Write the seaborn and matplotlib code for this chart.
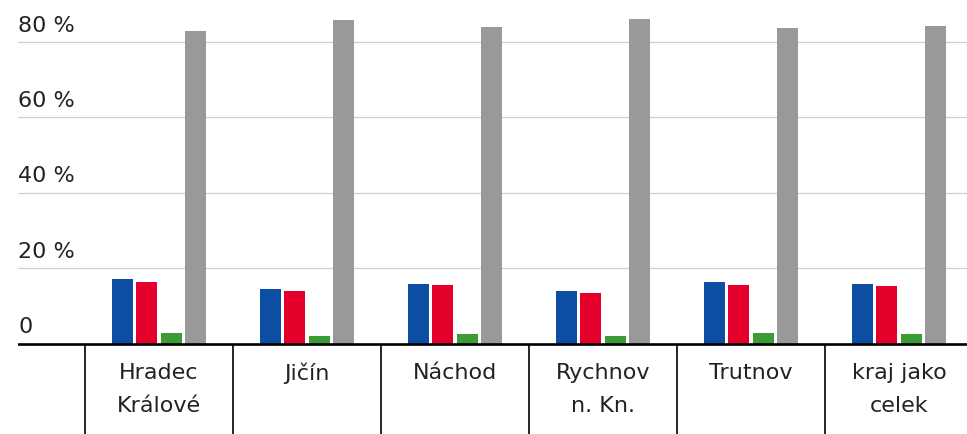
import matplotlib
matplotlib.use("Agg")
import matplotlib.pyplot as plt
import matplotlib.transforms as mtransforms
import seaborn as sns
import pandas as pd

# ---- data ----
regions = ["Hradec\nKrálové", "Jičín", "Náchod", "Rychnov\nn. Kn.", "Trutnov", "kraj jako\ncelek"]
series_names = ["řada 1", "řada 2", "řada 3", "řada 4"]
blue_vals = [17.2, 14.5, 15.9, 13.9, 16.3, 15.9]
red_vals = [16.3, 13.9, 15.4, 13.3, 15.6, 15.2]
green_vals = [2.8, 2.1, 2.65, 1.9, 2.8, 2.6]
gray_vals = [82.8, 85.7, 84.0, 86.1, 83.6, 84.2]
y_ticks = [0, 20, 40, 60, 80]
y_tick_labels = ["0", "20 %", "40 %", "60 %", "80 %"]

colors = ["#0B4EA2", "#E4002B", "#3C9B35", "#999999"]

rows = []
for name, vals in zip(series_names, [blue_vals, red_vals, green_vals, gray_vals]):
    for r, v in zip(regions, vals):
        rows.append({"region": r, "series": name, "value": v})
df = pd.DataFrame(rows)

sns.set_theme(style="white")
plt.rcParams["font.family"] = ["DejaVu Sans"]

W, H = 967, 435
fig = plt.figure(figsize=(W / 100, H / 100), dpi=100)
left_px = 18
ax = fig.add_axes([left_px / W, 0, 1 - left_px / W, 1])

sns.barplot(data=df, x="region", y="value", hue="series", order=regions,
            hue_order=series_names, palette=colors, saturation=1,
            width=0.66, gap=0.15, linewidth=0, ax=ax, legend=False, zorder=3)

# axis geometry
px_per_unit = 148.0
x0_px = 159.0
ax.set_xlim((left_px - x0_px) / px_per_unit, (W - x0_px) / px_per_unit)
px_per_pct = 3.77
base_px = 344.5
ax.set_ylim((base_px - H) / px_per_pct, base_px / px_per_pct)

for s in ax.spines.values():
    s.set_visible(False)
ax.set_xticks([])
ax.set_yticks([])
ax.set_xlabel("")
ax.set_ylabel("")

# gridlines
for v in y_ticks[1:]:
    ax.axhline(v, color="#D0D0D0", lw=0.9, zorder=1)
ax.axhline(0, color="black", lw=1.9, zorder=4)

# separators between categories
ymin = ax.get_ylim()[0]
for i in range(len(regions)):
    ax.plot([i - 0.5, i - 0.5], [0, ymin], color="black", lw=1.2, zorder=4,
            solid_capstyle="butt")

# y tick labels (above gridlines)
trans = mtransforms.blended_transform_factory(ax.transAxes, ax.transData)
for v, lab in zip(y_ticks, y_tick_labels):
    ax.text(0.0, v + 3.0, lab, transform=trans, ha="left", va="baseline",
            fontsize=16, color="#222222")

# category labels
for i, r in enumerate(regions):
    ax.text(i, -4.9, r, ha="center", va="top", fontsize=16,
            color="#222222", linespacing=1.8)

fig.savefig("out.png", dpi=100)
